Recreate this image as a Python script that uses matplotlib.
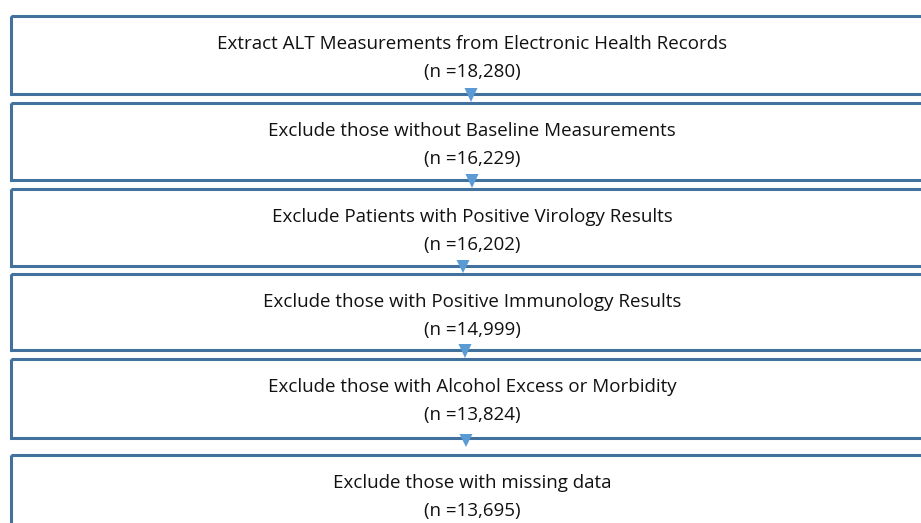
import matplotlib
matplotlib.use("Agg")
from matplotlib import pyplot as plt
from matplotlib.patches import Rectangle, Polygon

# flowchart steps and patient counts
steps = ["Extract ALT Measurements from Electronic Health Records",
         "Exclude those without Baseline Measurements",
         "Exclude Patients with Positive Virology Results",
         "Exclude those with Positive Immunology Results",
         "Exclude those with Alcohol Excess or Morbidity",
         "Exclude those with missing data"]
counts = [18280, 16229, 16202, 14999, 13824, 13695]

# layout (pixels, y going down)
box_top = [16, 103, 189, 274, 359, 455]
box_bot = [94, 180, 266, 350, 438, 560]
arrow_x = [471, 472, 463, 465, 466]
edge = "#41719C"
arrow_col = "#5B9BD5"

W, H = 921, 523
fig = plt.figure(figsize=(W / 100, H / 100), dpi=100)
ax = fig.add_axes([0, 0, 1, 1])
ax.set_xlim(0, W)
ax.set_ylim(H, 0)
ax.axis("off")

for i, (label, n) in enumerate(zip(steps, counts)):
    t, b = box_top[i], box_bot[i]
    ax.add_patch(Rectangle((10.5, t), 960, b - t, fill=False,
                           edgecolor=edge, lw=2.2))
    ax.text(472, t + 28, label, ha="center", va="center",
            fontsize=13.5, family="Open Sans", color="#111111")
    ax.text(472, t + 56, "(n =%s)" % format(n, ","), ha="center", va="center",
            fontsize=13.5, family="Open Sans", color="#111111")

# arrows between boxes
for i, x in enumerate(arrow_x):
    y0 = box_bot[i] - 6
    y1 = box_top[i + 1] - 1
    if i == 4:
        y0, y1 = 434, 447
    ax.add_patch(Polygon([(x - 6.5, y0), (x + 6.5, y0), (x, y1)],
                         closed=True, facecolor=arrow_col, edgecolor="none",
                         zorder=3))

fig.savefig("out.png", dpi=100)
